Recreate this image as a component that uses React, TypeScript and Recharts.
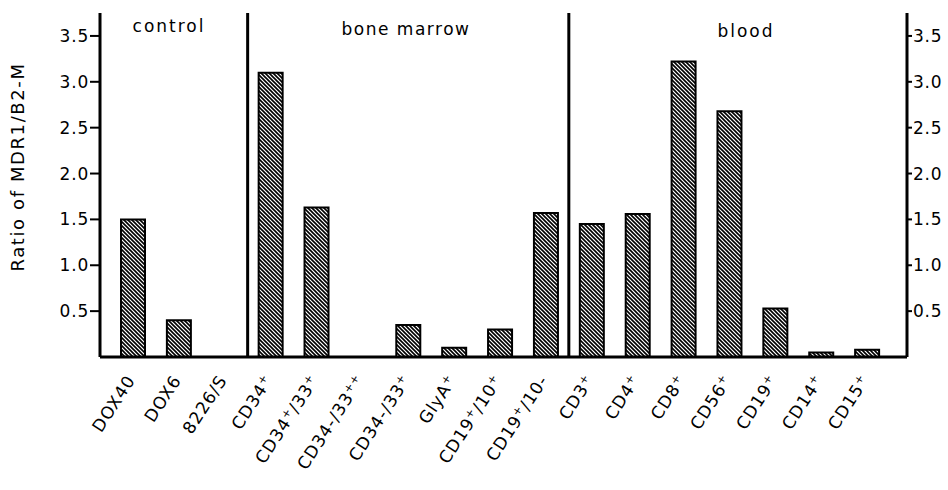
import React from 'react';
import { BarChart, Bar, XAxis, YAxis, ReferenceLine, Customized } from 'recharts';

const categories = ['DOX40', 'DOX6', '8226/S', 'CD34+', 'CD34+/33+', 'CD34-/33++', 'CD34-/33+', 'GlyA+', 'CD19+/10+', 'CD19+/10-', 'CD3+', 'CD4+', 'CD8+', 'CD56+', 'CD19+', 'CD14+', 'CD15+'];
const ratios = [1.5, 0.4, 0, 3.1, 1.63, 0, 0.35, 0.1, 0.3, 1.57, 1.45, 1.56, 3.22, 2.68, 0.53, 0.05, 0.08];
const yTicks = [0.5, 1.0, 1.5, 2.0, 2.5, 3.0, 3.5];
const groupLabels = ['control', 'bone marrow', 'blood'];
const groupBoundaries = ['8226/S', 'CD19+/10-'];
const yTitle = 'Ratio of MDR1/B2-M';

const data = categories.map((c, i) => ({ name: c, value: ratios[i] }));

const FONT = '"DejaVu Sans", sans-serif';

function renderSegments(label: string) {
  const parts = label.split(/(\++)/).filter((p) => p.length > 0);
  const out: any[] = [];
  let raised = false;
  parts.forEach((p, i) => {
    if (p.startsWith('+')) {
      out.push(
        <tspan key={i} fontSize={11} dy={-6}>
          {p}
        </tspan>
      );
      raised = true;
    } else {
      out.push(
        <tspan key={i} dy={raised ? 6 : 0}>
          {p}
        </tspan>
      );
      raised = false;
    }
  });
  return out;
}

const CategoryTick = (props: any) => {
  const { x, y, payload } = props;
  return (
    <g transform={`translate(${x + 3},${y + 23}) rotate(-57)`}>
      <text textAnchor="end" fontFamily={FONT} fontSize={17} letterSpacing={1} fill="#000">
        {renderSegments(payload.value)}
      </text>
    </g>
  );
};

const Overlay = () => (
  <g fontFamily={FONT} fill="#000">
    <text x={169} y={32} fontSize={17} letterSpacing={2} textAnchor="middle">{groupLabels[0]}</text>
    <text x={406} y={35} fontSize={17} letterSpacing={1.5} textAnchor="middle">{groupLabels[1]}</text>
    <text x={746} y={37} fontSize={17} letterSpacing={2} textAnchor="middle">{groupLabels[2]}</text>
    <text x={0} y={0} fontSize={18} letterSpacing={1.6} textAnchor="middle" transform="translate(24,167) rotate(-90)">{yTitle}</text>
  </g>
);

export default function App() {
  return (
    <div style={{ position: 'absolute', left: 0, top: 0, width: 948, height: 490, background: '#fff' }}>
      <svg width={0} height={0} style={{ position: 'absolute' }}>
        <defs>
          <pattern id="hatch" patternUnits="userSpaceOnUse" width={4} height={4}>
            <rect width={4} height={4} fill="#fff" />
            <path d="M-1,-1 L5,5 M-1,3 L1,5 M3,-1 L5,1" stroke="#000" strokeWidth={1.6} />
          </pattern>
        </defs>
      </svg>
      <BarChart
        width={948}
        height={490}
        data={data}
        margin={{ top: 13, right: 0, left: 40, bottom: 3 }}
        barCategoryGap={0}
      >
        <XAxis
          dataKey="name"
          type="category"
          interval={0}
          height={130}
          padding={{ left: 10, right: 17 }}
          axisLine={{ stroke: '#000', strokeWidth: 3 }}
          tickLine={false}
          tickSize={0}
          tickMargin={0}
          tick={<CategoryTick />}
        />
        <YAxis
          yAxisId="left"
          width={60}
          domain={[0, 3.75]}
          ticks={yTicks}
          allowDataOverflow
          tickFormatter={(v: number) => v.toFixed(1)}
          axisLine={{ stroke: '#000', strokeWidth: 3 }}
          tickLine={{ stroke: '#000', strokeWidth: 2 }}
          tickSize={10}
          tickMargin={1}
          tick={{ fontFamily: FONT, fontSize: 17, fill: '#000', letterSpacing: 0.8 }}
        />
        <YAxis
          yAxisId="right"
          orientation="right"
          width={41}
          domain={[0, 3.75]}
          ticks={yTicks}
          allowDataOverflow
          tickFormatter={(v: number) => v.toFixed(1)}
          axisLine={{ stroke: '#000', strokeWidth: 3 }}
          tickLine={{ stroke: '#000', strokeWidth: 2 }}
          tickSize={5}
          tickMargin={1}
          tick={{ fontFamily: FONT, fontSize: 17, fill: '#000', textAnchor: 'start', letterSpacing: 0.8 }}
        />
        {groupBoundaries.map((b) => (
          <ReferenceLine key={b} yAxisId="left" x={b} position="end" stroke="#000" strokeWidth={3} />
        ))}
        <Bar
          yAxisId="left"
          dataKey="value"
          barSize={24}
          fill="url(#hatch)"
          stroke="#000"
          strokeWidth={2}
          isAnimationActive={false}
        />
        <Customized component={Overlay} />
      </BarChart>
    </div>
  );
}
